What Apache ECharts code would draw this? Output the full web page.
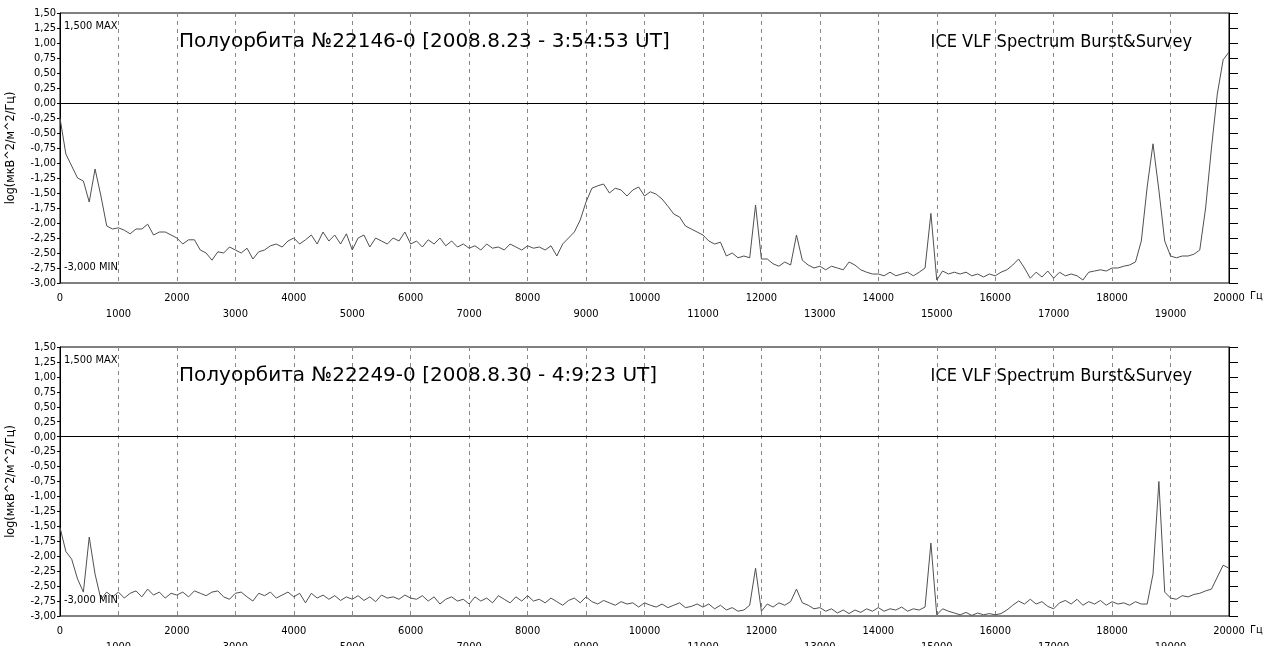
<!DOCTYPE html>
<html>
<head>
<meta charset="utf-8">
<script src="https://cdn.jsdelivr.net/npm/echarts@6/dist/echarts.min.js"></script>
<style>
html,body{margin:0;padding:0;background:#fff;}
#c{width:1276px;height:646px;}
</style>
</head>
<body>
<div id="c"></div>
<script>
// Frequency step of the spectra (Hz), values sampled every 100 Hz from 0 to 20000
const FREQ_STEP = 100;
const xTickLabels = ['0','1000','2000','3000','4000','5000','6000','7000','8000','9000','10000','11000','12000','13000','14000','15000','16000','17000','18000','19000','20000'];

const title1 = 'Полуорбита №22146-0 [2008.8.23 - 3:54:53 UT]';
const title2 = 'Полуорбита №22249-0 [2008.8.30 - 4:9:23 UT]';
const instrument = 'ICE VLF Spectrum Burst&Survey';
const maxText = '1,500 MAX';
const minText = '-3,000 MIN';
const yName = 'log(мкВ^2/м^2/Гц)';
const xUnit = 'Гц';

// Top spectrum: log(uV^2/m^2/Hz), one value per 100 Hz
const spectrum1 = [
 -0.25,-0.85,-1.05,-1.25,-1.3,-1.65,-1.1,-1.55,-2.05,-2.1,
 -2.08,-2.12,-2.18,-2.1,-2.1,-2.02,-2.2,-2.15,-2.15,-2.2,
 -2.25,-2.35,-2.28,-2.28,-2.45,-2.5,-2.62,-2.48,-2.5,-2.4,
 -2.45,-2.5,-2.42,-2.6,-2.48,-2.45,-2.38,-2.35,-2.4,-2.3,
 -2.25,-2.35,-2.28,-2.2,-2.35,-2.15,-2.3,-2.2,-2.35,-2.18,
 -2.45,-2.25,-2.2,-2.4,-2.25,-2.3,-2.35,-2.25,-2.3,-2.15,
 -2.35,-2.3,-2.4,-2.28,-2.35,-2.25,-2.38,-2.3,-2.4,-2.35,
 -2.42,-2.38,-2.45,-2.35,-2.42,-2.4,-2.45,-2.35,-2.4,-2.45,
 -2.38,-2.42,-2.4,-2.45,-2.38,-2.55,-2.35,-2.25,-2.15,-1.95,
 -1.65,-1.42,-1.38,-1.35,-1.5,-1.42,-1.45,-1.55,-1.45,-1.4,
 -1.55,-1.48,-1.52,-1.6,-1.72,-1.85,-1.9,-2.05,-2.1,-2.15,
 -2.2,-2.3,-2.35,-2.32,-2.55,-2.5,-2.58,-2.55,-2.58,-1.7,
 -2.6,-2.6,-2.68,-2.72,-2.65,-2.7,-2.2,-2.62,-2.7,-2.75,
 -2.72,-2.78,-2.72,-2.75,-2.78,-2.65,-2.7,-2.78,-2.82,-2.85,
 -2.85,-2.88,-2.82,-2.88,-2.85,-2.82,-2.88,-2.82,-2.75,-1.84,
 -2.95,-2.8,-2.85,-2.82,-2.85,-2.82,-2.88,-2.85,-2.9,-2.85,
 -2.88,-2.82,-2.78,-2.7,-2.6,-2.75,-2.92,-2.82,-2.9,-2.8,
 -2.92,-2.82,-2.88,-2.85,-2.88,-2.95,-2.82,-2.8,-2.78,-2.8,
 -2.75,-2.75,-2.72,-2.7,-2.65,-2.3,-1.4,-0.68,-1.45,-2.3,
 -2.55,-2.58,-2.55,-2.55,-2.52,-2.45,-1.75,-0.75,0.15,0.72,
 0.85
];

// Bottom spectrum
const spectrum2 = [
 -1.52,-1.92,-2.05,-2.38,-2.6,-1.68,-2.3,-2.72,-2.6,-2.68,
 -2.6,-2.7,-2.62,-2.58,-2.68,-2.55,-2.65,-2.6,-2.7,-2.62,
 -2.65,-2.6,-2.68,-2.58,-2.62,-2.66,-2.6,-2.58,-2.68,-2.72,
 -2.62,-2.6,-2.68,-2.75,-2.62,-2.66,-2.6,-2.7,-2.65,-2.6,
 -2.68,-2.62,-2.78,-2.62,-2.7,-2.65,-2.72,-2.66,-2.74,-2.68,
 -2.72,-2.66,-2.74,-2.68,-2.76,-2.65,-2.7,-2.68,-2.72,-2.65,
 -2.7,-2.72,-2.66,-2.75,-2.68,-2.8,-2.72,-2.68,-2.75,-2.72,
 -2.8,-2.68,-2.75,-2.7,-2.78,-2.66,-2.72,-2.78,-2.68,-2.75,
 -2.66,-2.75,-2.72,-2.78,-2.7,-2.76,-2.82,-2.74,-2.7,-2.78,
 -2.68,-2.76,-2.8,-2.74,-2.78,-2.82,-2.76,-2.8,-2.78,-2.85,
 -2.78,-2.82,-2.85,-2.8,-2.86,-2.82,-2.78,-2.86,-2.84,-2.8,
 -2.85,-2.8,-2.88,-2.82,-2.9,-2.86,-2.92,-2.9,-2.82,-2.2,
 -2.92,-2.8,-2.85,-2.78,-2.82,-2.76,-2.55,-2.78,-2.82,-2.88,
 -2.86,-2.92,-2.88,-2.95,-2.9,-2.96,-2.9,-2.94,-2.88,-2.92,
 -2.86,-2.92,-2.88,-2.9,-2.85,-2.92,-2.88,-2.9,-2.85,-1.78,
 -2.98,-2.88,-2.92,-2.95,-2.98,-2.94,-2.99,-2.95,-2.98,-2.96,
 -2.98,-2.96,-2.9,-2.82,-2.75,-2.8,-2.72,-2.8,-2.76,-2.84,
 -2.88,-2.78,-2.74,-2.8,-2.72,-2.82,-2.76,-2.8,-2.74,-2.82,
 -2.76,-2.8,-2.78,-2.82,-2.76,-2.8,-2.8,-2.3,-0.75,-2.6,
 -2.7,-2.72,-2.66,-2.68,-2.64,-2.62,-2.58,-2.55,-2.35,-2.15,
 -2.2
];

const FONT = "'DejaVu Sans Condensed','DejaVu Sans',sans-serif";
const TITLE_FONT = "'DejaVu Sans',sans-serif";
const LINE_COLOR = '#505050';

function pairs(arr){ return arr.map((v,i)=>[i*FREQ_STEP, v]); }

const grids = [
  {left:60, top:13, width:1169, height:270},
  {left:60, top:347, width:1169, height:269}
];

function xAxisFor(gi){
  return {
    type:'value', gridIndex:gi, min:0, max:20000, interval:1000,
    axisLine:{show:true, lineStyle:{color:'#000', width:1}},
    axisTick:{show:false},
    splitLine:{show:true, lineStyle:{type:[4,4], color:'#888', width:1}},
    axisLabel:{
      color:'#000', fontFamily:FONT, fontSize:11, lineHeight:16, margin:7,
      formatter:function(v){ const i = Math.round(v/1000); const t = xTickLabels[i]; return (i%2===1) ? '\n'+t : t; }
    }
  };
}
function yLeft(gi){
  return {
    type:'value', gridIndex:gi, min:-3, max:1.5, interval:0.25, position:'left',
    axisLine:{show:true, lineStyle:{color:'#000', width:1}},
    axisTick:{show:true, length:3, lineStyle:{color:'#000'}},
    splitLine:{show:false},
    axisLabel:{color:'#000', fontFamily:FONT, fontSize:11, margin:4,
      formatter:function(v){ return v.toFixed(2).replace('.', ','); }},
    name:yName, nameLocation:'middle', nameGap:43, nameRotate:90,
    nameTextStyle:{color:'#000', fontFamily:FONT, fontSize:12.5}
  };
}
function yRight(gi){
  return {
    type:'value', gridIndex:gi, min:-3, max:1.5, interval:0.25, position:'right',
    axisLine:{show:true, lineStyle:{color:'#000', width:1}},
    axisTick:{show:true, length:9, lineStyle:{color:'#000'}},
    splitLine:{show:false},
    axisLabel:{show:false}
  };
}

function seriesFor(data, gi){
  return {
    type:'line', xAxisIndex:gi, yAxisIndex:gi*2, data:pairs(data),
    showSymbol:false, symbol:'none', smooth:false, sampling:'none',
    lineStyle:{color:LINE_COLOR, width:1}, z:3,
    markLine:{silent:true, symbol:['none','none'], label:{show:false},
      lineStyle:{color:'#000', type:'solid', width:1},
      data:[{yAxis:0}]}
  };
}

function txt(text, pos, size, family){
  return Object.assign({text:text, textStyle:{fontFamily:family||FONT, fontSize:size, fontWeight:'normal', color:'#000'}, padding:0}, pos);
}

const option = {
  animation:false,
  backgroundColor:'#fff',
  title:[
    txt(maxText, {left:64, top:21}, 11),
    txt(minText, {left:64, top:262}, 11),
    txt(title1, {left:179, top:32}, 20, TITLE_FONT),
    txt(instrument, {right:84, top:33}, 18),
    txt(xUnit, {left:1250, top:291}, 11),
    txt(maxText, {left:64, top:355}, 11),
    txt(minText, {left:64, top:595}, 11),
    txt(title2, {left:179, top:366}, 20, TITLE_FONT),
    txt(instrument, {right:84, top:367}, 18),
    txt(xUnit, {left:1250, top:625}, 11)
  ],
  grid:grids.map(g=>Object.assign({show:true, borderColor:'#000', borderWidth:1, backgroundColor:'transparent', containLabel:false, outerBoundsMode:'none'}, g)),
  xAxis:[xAxisFor(0), xAxisFor(1)],
  yAxis:[yLeft(0), yRight(0), yLeft(1), yRight(1)],
  series:[seriesFor(spectrum1,0), seriesFor(spectrum2,1)]
};

const chart = echarts.init(document.getElementById('c'), null, {renderer:'canvas'});
chart.setOption(option);
</script>
</body>
</html>
